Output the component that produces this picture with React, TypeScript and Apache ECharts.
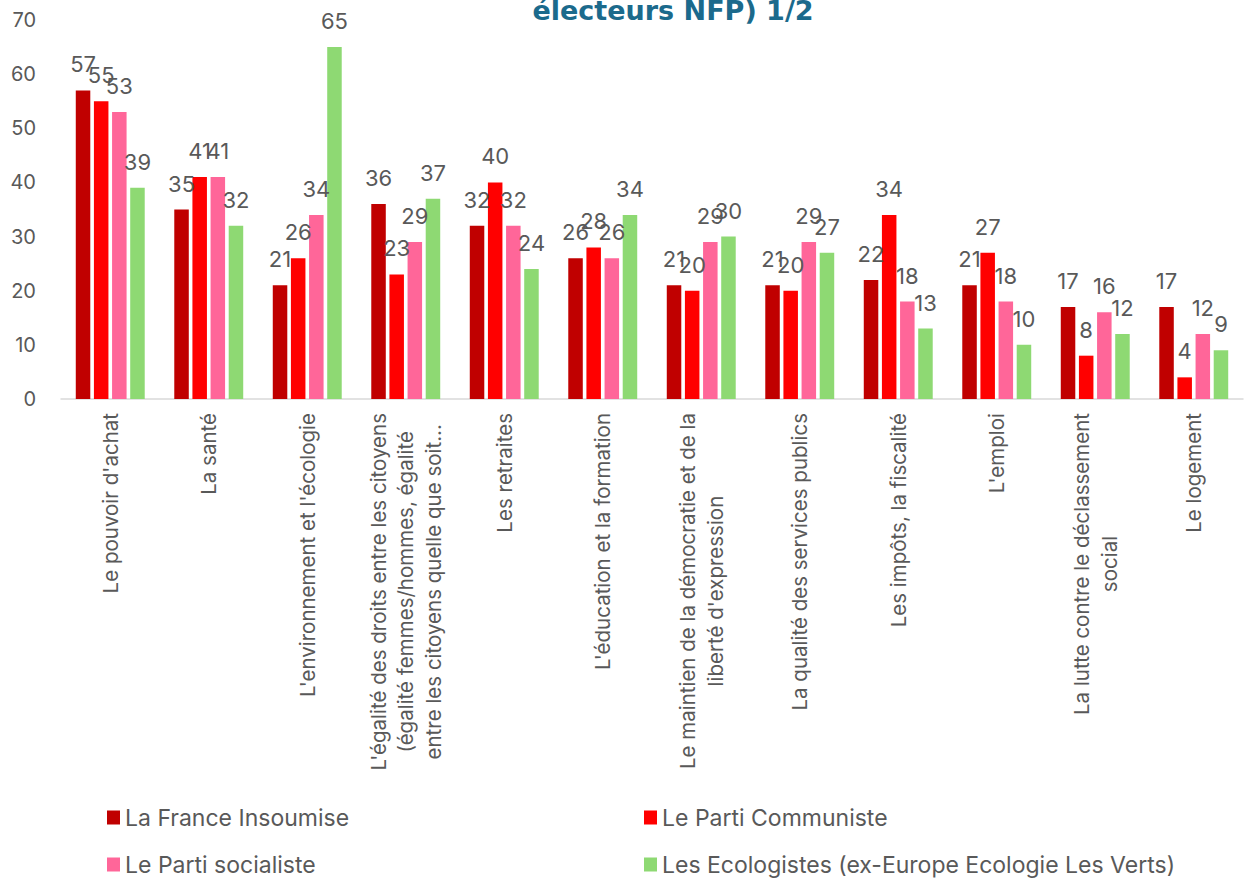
import React, { useEffect, useRef } from "react";
import * as echarts from "echarts";

const categories: string[] = [
  "Le pouvoir d'achat",
  "La santé",
  "L'environnement et l'écologie",
  "L'égalité des droits entre les citoyens\n(égalité femmes/hommes, égalité\nentre les citoyens quelle que soit...",
  "Les retraites",
  "L'éducation et la formation",
  "Le maintien de la démocratie et de la\nliberté d'expression",
  "La qualité des services publics",
  "Les impôts, la fiscalité",
  "L'emploi",
  "La lutte contre le déclassement\nsocial",
  "Le logement",
];

const seriesNames: string[] = [
  "La France Insoumise",
  "Le Parti Communiste",
  "Le Parti socialiste",
  "Les Ecologistes (ex-Europe Ecologie Les Verts)",
];

const lfi: number[] = [57, 35, 21, 36, 32, 26, 21, 21, 22, 21, 17, 17];
const pc: number[] = [55, 41, 26, 23, 40, 28, 20, 20, 34, 27, 8, 4];
const ps: number[] = [53, 41, 34, 29, 32, 26, 29, 29, 18, 18, 16, 12];
const eco: number[] = [39, 32, 65, 37, 24, 34, 30, 27, 13, 10, 12, 9];

const yTicks: number[] = [0, 10, 20, 30, 40, 50, 60, 70];

const titleText = "électeurs NFP) 1/2";

const colors = ["#C00000", "#FF0000", "#FF6699", "#8ED973"];
const FONT = "Inter";
const GREY = "#595959";

export default function App() {
  const ref = useRef<HTMLDivElement>(null);
  useEffect(() => {
    if (!ref.current) return;
    const chart = echarts.init(ref.current, undefined, { renderer: "svg" });
    const allData = [lfi, pc, ps, eco];
    const legendPos = [
      { left: 107, top: 806 },
      { left: 644, top: 806 },
      { left: 107, top: 853 },
      { left: 644, top: 853 },
    ];
    chart.setOption({
      animation: false,
      backgroundColor: "#ffffff",
      textStyle: { fontFamily: FONT },
      graphic: [
        {
          type: "text",
          x: 673,
          y: 24,
          style: {
            text: titleText,
            font: `bold 27px 'DejaVu Sans'`,
            fill: "#1B6A8C",
            align: "center",
            verticalAlign: "bottom",
          },
        },
      ],
      legend: seriesNames.map((n, i) => ({
        data: [n],
        left: legendPos[i].left,
        top: legendPos[i].top,
        padding: 0,
        itemWidth: 13,
        itemHeight: 14,
        icon: "rect",
        selectedMode: false,
        textStyle: { fontFamily: FONT, fontSize: 23, color: GREY },
      })),
      grid: { left: 61, right: 7, top: 20, bottom: 480, containLabel: false },
      xAxis: {
        type: "category",
        data: categories,
        axisLine: { show: true, lineStyle: { color: "#D9D9D9", width: 1.5 } },
        axisTick: { show: false },
        axisLabel: {
          interval: 0,
          rotate: 90,
          margin: 14,
          formatter: (v: string) =>
            v
              .split("\n")
              .map((l) => `{c|${l}}`)
              .join("\n"),
          rich: {
            c: {
              align: "center",
              fontFamily: FONT,
              fontSize: 20.5,
              lineHeight: 27.5,
              color: GREY,
            },
          },
        },
      },
      yAxis: {
        type: "value",
        min: 0,
        max: 70,
        interval: 10,
        axisLine: { show: false },
        axisTick: { show: false },
        splitLine: { show: false },
        axisLabel: {
          margin: 25,
          fontFamily: FONT,
          fontSize: 20,
          color: GREY,
          formatter: (v: number) => (yTicks.includes(v) ? String(v) : ""),
        },
      },
      series: seriesNames.map((n, i) => ({
        name: n,
        type: "bar",
        data: allData[i],
        barGap: "25%",
        barCategoryGap: "30%",
        itemStyle: { color: colors[i] },
        label: {
          show: true,
          position: "top",
          distance: 15,
          fontFamily: FONT,
          fontSize: 22,
          color: GREY,
        },
      })),
    });
    return () => chart.dispose();
  }, []);
  return (
    <div
      ref={ref}
      style={{ position: "fixed", left: 0, top: 0, width: 1250, height: 879 }}
    />
  );
}
